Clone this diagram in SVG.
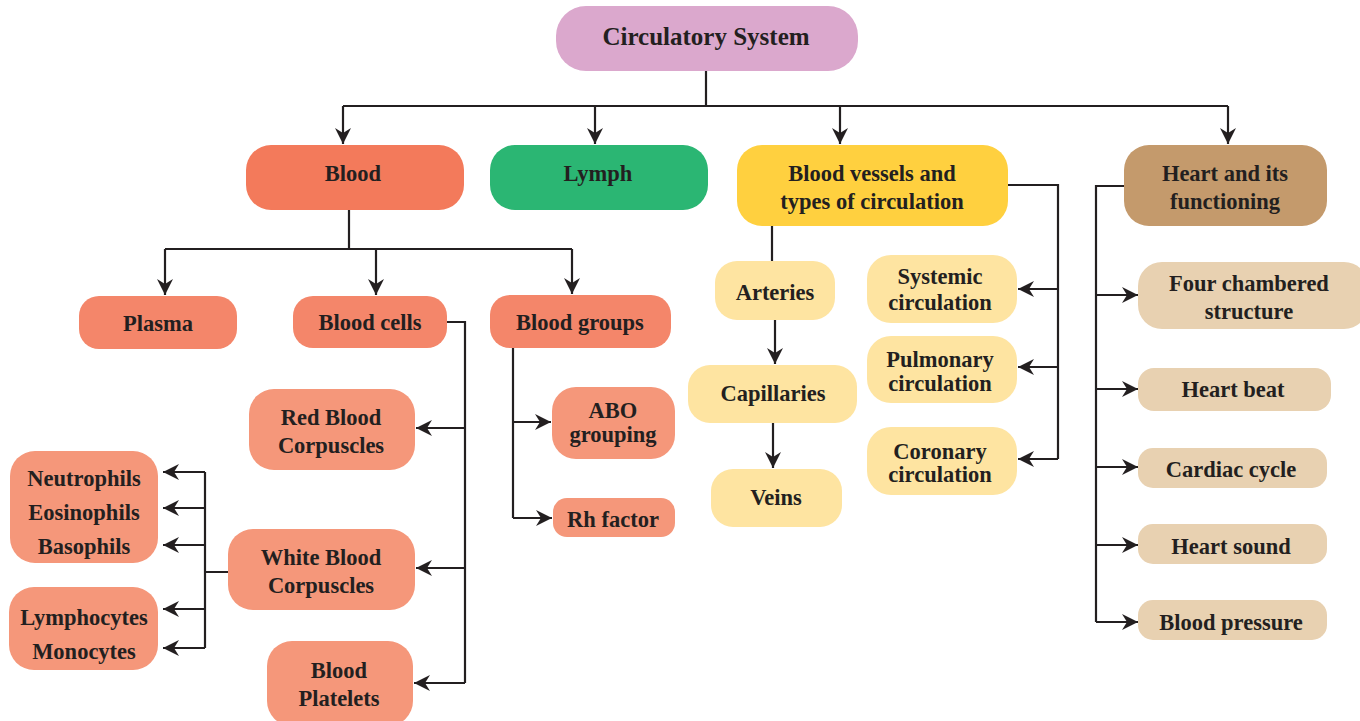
<svg xmlns="http://www.w3.org/2000/svg" width="1360" height="721" viewBox="0 0 1360 721">
<style>
text{font-family:"Liberation Serif","Times New Roman",serif;font-weight:bold;fill:#231f20;text-anchor:middle;font-size:22.5px}
.t{font-size:25px}
.c{fill:none;stroke:#231f20;stroke-width:2.2}
</style>
<defs>
<marker id="ah" markerUnits="userSpaceOnUse" markerWidth="18" markerHeight="16" refX="16" refY="8" orient="auto">
<path d="M0,0 L16,8 L0,16 L5,8 Z" fill="#231f20"/>
</marker>
</defs>
<rect width="1360" height="721" fill="#fff"/>
<g id="connectors">
<path class="c" d="M706,71 V106 M343,106 H1228"/>
<path class="c" marker-end="url(#ah)" d="M343,106 V144"/>
<path class="c" marker-end="url(#ah)" d="M595,106 V144"/>
<path class="c" marker-end="url(#ah)" d="M840,106 V144"/>
<path class="c" marker-end="url(#ah)" d="M1228,106 V144"/>
<path class="c" d="M349,210 V249 M165,249 H572"/>
<path class="c" marker-end="url(#ah)" d="M165,249 V295"/>
<path class="c" marker-end="url(#ah)" d="M376,249 V295"/>
<path class="c" marker-end="url(#ah)" d="M572,249 V294"/>
<path class="c" d="M447,322 H465 V683"/>
<path class="c" marker-end="url(#ah)" d="M465,428 H416"/>
<path class="c" marker-end="url(#ah)" d="M465,568 H416"/>
<path class="c" marker-end="url(#ah)" d="M465,683 H414"/>
<path class="c" d="M228,572 H205 M205,472 V648"/>
<path class="c" marker-end="url(#ah)" d="M205,472 H163"/>
<path class="c" marker-end="url(#ah)" d="M205,508 H163"/>
<path class="c" marker-end="url(#ah)" d="M205,545 H163"/>
<path class="c" marker-end="url(#ah)" d="M205,609 H163"/>
<path class="c" marker-end="url(#ah)" d="M205,648 H163"/>
<path class="c" d="M513,348 V518"/>
<path class="c" marker-end="url(#ah)" d="M513,422 H551"/>
<path class="c" marker-end="url(#ah)" d="M513,518 H552"/>
<path class="c" d="M772,226 V261"/>
<path class="c" marker-end="url(#ah)" d="M775,320 V364"/>
<path class="c" marker-end="url(#ah)" d="M773,423 V468"/>
<path class="c" d="M1008,185 H1058 V459"/>
<path class="c" marker-end="url(#ah)" d="M1058,289 H1018"/>
<path class="c" marker-end="url(#ah)" d="M1058,367 H1018"/>
<path class="c" marker-end="url(#ah)" d="M1058,459 H1018"/>
<path class="c" d="M1124,186 H1096 V622"/>
<path class="c" marker-end="url(#ah)" d="M1096,295 H1138"/>
<path class="c" marker-end="url(#ah)" d="M1096,389 H1138"/>
<path class="c" marker-end="url(#ah)" d="M1096,467 H1138"/>
<path class="c" marker-end="url(#ah)" d="M1096,545 H1138"/>
<path class="c" marker-end="url(#ah)" d="M1096,622 H1138"/>
</g>
<g id="circulatory-system"><rect x="556" y="6" width="302" height="65" rx="30" fill="#dba8cd"/><text class="t" x="706" y="45">Circulatory System</text></g>
<g id="blood"><rect x="246" y="145" width="218" height="65" rx="25" fill="#f37a5b"/><text x="353" y="181">Blood</text></g>
<g id="lymph"><rect x="490" y="145" width="218" height="65" rx="25" fill="#2bb673"/><text x="598" y="181">Lymph</text></g>
<g id="blood-vessels"><rect x="737" y="145" width="271" height="81" rx="25" fill="#ffd03f"/><text x="872" y="181">Blood vessels and</text><text x="872" y="209">types of circulation</text></g>
<g id="heart"><rect x="1124" y="145" width="203" height="81" rx="25" fill="#c49a6c"/><text x="1225" y="181">Heart and its</text><text x="1225" y="209">functioning</text></g>
<g id="plasma"><rect x="79" y="296" width="158" height="53" rx="20" fill="#f4866a"/><text x="158" y="331">Plasma</text></g>
<g id="blood-cells"><rect x="293" y="296" width="154" height="52" rx="20" fill="#f4866a"/><text x="370" y="330">Blood cells</text></g>
<g id="blood-groups"><rect x="490" y="295" width="181" height="53" rx="20" fill="#f4866a"/><text x="580" y="330">Blood groups</text></g>
<g id="rbc"><rect x="249" y="389" width="166" height="81" rx="25" fill="#f5977a"/><text x="331" y="425">Red Blood</text><text x="331" y="453">Corpuscles</text></g>
<g id="wbc"><rect x="228" y="529" width="187" height="81" rx="25" fill="#f5977a"/><text x="321" y="565">White Blood</text><text x="321" y="593">Corpuscles</text></g>
<g id="platelets"><rect x="267" y="641" width="146" height="85" rx="25" fill="#f5977a"/><text x="339" y="678">Blood</text><text x="339" y="706">Platelets</text></g>
<g id="granulocytes"><rect x="10" y="451" width="148" height="112" rx="25" fill="#f5977a"/><text x="84" y="486">Neutrophils</text><text x="84" y="520">Eosinophils</text><text x="84" y="554">Basophils</text></g>
<g id="agranulocytes"><rect x="9" y="587" width="149" height="83" rx="25" fill="#f5977a"/><text x="84" y="625">Lymphocytes</text><text x="84" y="659">Monocytes</text></g>
<g id="abo"><rect x="552" y="387" width="123" height="72" rx="24" fill="#f5977a"/><text x="613" y="418">ABO</text><text x="613" y="442">grouping</text></g>
<g id="rh"><rect x="553" y="498" width="122" height="39" rx="14" fill="#f5977a"/><text x="613" y="527">Rh factor</text></g>
<g id="arteries"><rect x="715" y="261" width="120" height="59" rx="22" fill="#fee4a1"/><text x="775" y="300">Arteries</text></g>
<g id="capillaries"><rect x="688" y="365" width="169" height="58" rx="22" fill="#fee4a1"/><text x="773" y="401">Capillaries</text></g>
<g id="veins"><rect x="711" y="469" width="131" height="58" rx="22" fill="#fee4a1"/><text x="776" y="505">Veins</text></g>
<g id="systemic"><rect x="867" y="255" width="150" height="68" rx="24" fill="#fee4a1"/><text x="940" y="284">Systemic</text><text x="940" y="310">circulation</text></g>
<g id="pulmonary"><rect x="867" y="336" width="150" height="67" rx="24" fill="#fee4a1"/><text x="940" y="367">Pulmonary</text><text x="940" y="391">circulation</text></g>
<g id="coronary"><rect x="867" y="427" width="150" height="68" rx="24" fill="#fee4a1"/><text x="940" y="459">Coronary</text><text x="940" y="482">circulation</text></g>
<g id="four-chambered"><rect x="1138" y="262" width="230" height="67" rx="24" fill="#e8d1b1"/><text x="1249" y="291">Four chambered</text><text x="1249" y="319">structure</text></g>
<g id="heart-beat"><rect x="1138" y="368" width="193" height="43" rx="16" fill="#e8d1b1"/><text x="1233" y="397">Heart beat</text></g>
<g id="cardiac-cycle"><rect x="1138" y="448" width="189" height="40" rx="15" fill="#e8d1b1"/><text x="1231" y="477">Cardiac cycle</text></g>
<g id="heart-sound"><rect x="1138" y="524" width="189" height="40" rx="15" fill="#e8d1b1"/><text x="1231" y="554">Heart sound</text></g>
<g id="blood-pressure"><rect x="1138" y="600" width="189" height="40" rx="15" fill="#e8d1b1"/><text x="1231" y="630">Blood pressure</text></g>
</svg>
